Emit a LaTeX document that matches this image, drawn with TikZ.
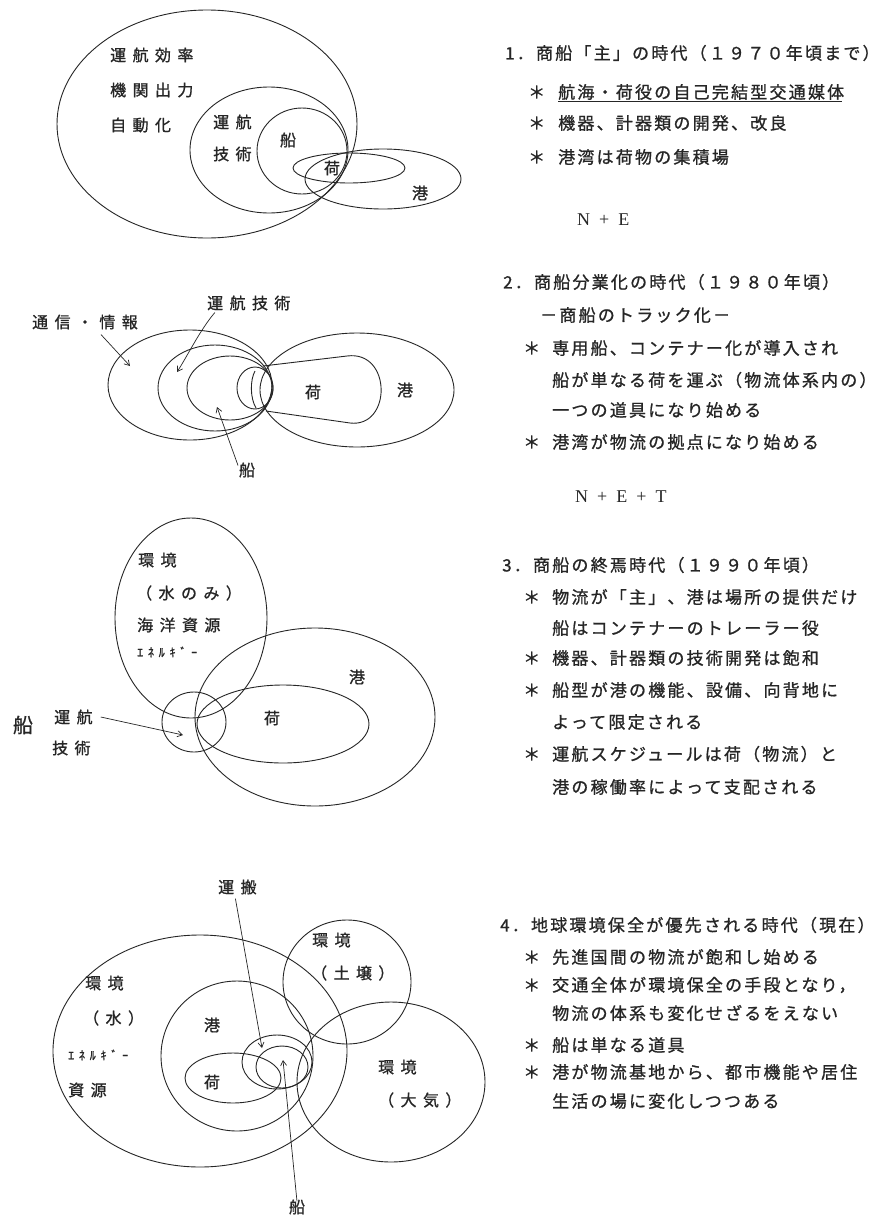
\documentclass[tikz,border=0pt]{standalone}
\usepackage{fontspec}
\usetikzlibrary{arrows.meta}
\setmainfont{Liberation Serif}
\newfontfamily\jp[LetterSpace=13, FakeBold=1]{Noto Sans CJK JP}
\newfontfamily\jpw[LetterSpace=40, FakeBold=1]{Noto Sans CJK JP}
\begin{document}
\begin{tikzpicture}[x=1pt,y=-1pt,
  ln/.style={draw=black!85, line width=0.9pt},
  rt/.style={font=\jp\fontsize{17}{17}\selectfont, anchor=west, inner sep=0pt, text=black!85},
  lb/.style={font=\jpw\fontsize{16}{16}\selectfont, inner sep=0pt, text=black!85},
  lbw/.style={lb, anchor=west},
  sm/.style={font=\jpw\fontsize{12}{12}\selectfont, inner sep=0pt, anchor=west, text=black!85},
  nf/.style={font=\fontsize{18}{18}\selectfont, anchor=west, inner sep=0pt, text=black!85},
  arr/.style={draw=black!85, line width=0.7pt, -{Straight Barb[length=5pt,width=6pt]}}]
\path[use as bounding box, fill=white] (0,0) rectangle (880,1216);

% ---------------- Diagram 1 ----------------
\draw[ln] (207,124) ellipse [x radius=150, y radius=114];
\draw[ln] (269,150) ellipse [x radius=79, y radius=63];
\draw[ln] (302,151) ellipse [x radius=45, y radius=43];
\draw[ln] (349,168) ellipse [x radius=56, y radius=15];
\draw[ln] (383,179) ellipse [x radius=78, y radius=30];
\node[lbw] (d1a) at (110,55) {運航効率};
\node[lbw] (d1b) at (110,90) {機関出力};
\node[lbw] (d1c) at (110,125) {自動化};
\node[lbw] (d1d) at (213,122) {運航};
\node[lbw] (d1e) at (213,154) {技術};
\node[lb] (d1f) at (288,140) {船};
\node[lb] (d1g) at (332,168) {荷};
\node[lb] (d1h) at (420,193) {港};

% ---------------- Diagram 2 ----------------
\draw[ln] (190,385) ellipse [x radius=82, y radius=55];
\draw[ln] (215,388) ellipse [x radius=57, y radius=43];
\draw[ln] (230,388) ellipse [x radius=43, y radius=32];
\draw[ln] (255,388) ellipse [x radius=18, y radius=21];
\draw[ln] (357,390) ellipse [x radius=97, y radius=57];
\draw[ln] (263,366) -- (347,356) .. controls (392,350) and (392,428) .. (350,423) -- (266,411);
\draw[ln] (255,371) .. controls (250,380) and (250,398) .. (256,408);
\node[lbw] (d2a) at (32,322) {通信・情報};
\node[lbw] (d2b) at (207,303) {運航技術};
\node[lb] (d2c) at (313,392) {荷};
\node[lb] (d2d) at (405,390) {港};
\node[lb] (d2e) at (247,470) {船};
\coordinate (d2ta) at (130,366);
\coordinate (d2tb) at (177,372);
\coordinate (d2tc) at (217,407);
\draw[arr] ([xshift=16pt,yshift=-5pt]d2a.south) -- (d2ta);
\draw[arr] ([xshift=-34pt,yshift=-2pt]d2b.south) .. controls (200,330) and (188,355) .. (d2tb);
\draw[arr] ([xshift=-9pt,yshift=-3pt]d2e.north) -- (d2tc);

% ---------------- Diagram 3 ----------------
\draw[ln] (191,618) ellipse [x radius=76, y radius=100];
\draw[ln] (315,717) ellipse [x radius=120, y radius=89];
\draw[ln] (283,724) ellipse [x radius=86, y radius=39];
\draw[ln] (194,722) ellipse [x radius=32, y radius=30];
\node[lbw] (d3a) at (138,560) {環境};
\node[lbw] (d3b) at (136,593) {（水のみ）};
\node[lbw] (d3c) at (137,625) {海洋資源};
\node[sm] (d3d) at (137,652) {ｴﾈﾙｷﾞｰ};
\node[lb] (d3e) at (357,677) {港};
\node[lb] (d3f) at (272,718) {荷};
\node[font=\jp\fontsize{20}{20}\selectfont, inner sep=0pt, text=black!85] (d3g) at (23,725) {船};
\node[lbw] (d3h) at (54,717) {運航};
\node[lbw] (d3i) at (52,748) {技術};
\coordinate (d3t) at (183,735);
\draw[arr] ([xshift=8pt]d3h.east) -- (d3t);

% ---------------- Diagram 4 ----------------
\draw[ln] (200,1051) ellipse [x radius=147, y radius=116];
\draw[ln] (237,1056) ellipse [x radius=76, y radius=75];
\draw[ln] (233,1078) ellipse [x radius=48, y radius=25];
\draw[ln] (277,1062) ellipse [x radius=35, y radius=27];
\draw[ln] (282,1067) ellipse [x radius=26, y radius=21];
\draw[ln] (347,982) ellipse [x radius=64, y radius=62];
\draw[ln] (391,1082) ellipse [x radius=94, y radius=80];
\node[lbw] (d4a) at (218,887) {運搬};
\node[lbw] (d4b) at (312,940) {環境};
\node[lbw] (d4c) at (311,973) {（土壌）};
\node[lbw] (d4d) at (85,983) {環境};
\node[lbw] (d4e) at (83,1018) {（水）};
\node[sm] (d4f) at (68,1055) {ｴﾈﾙｷﾞｰ};
\node[lbw] (d4g) at (68,1090) {資源};
\node[lb] (d4h) at (212,1025) {港};
\node[lb] (d4i) at (212,1082) {荷};
\node[lbw] (d4j) at (378,1067) {環境};
\node[lbw] (d4k) at (378,1100) {（大気）};
\node[lb] (d4l) at (297,1207) {船};
\coordinate (d4ta) at (262,1048);
\coordinate (d4tb) at (283,1060);
\draw[arr] ([xshift=-2pt,yshift=-4pt]d4a.south) -- (d4ta);
\draw[arr] ([yshift=-2pt]d4l.north) -- (d4tb);

% ---------------- Right column ----------------
\node[rt] (s1) at (505,53) {1．商船「主」の時代（１９７０年頃まで）};
\node[rt] (s1a) at (528,92) {＊};
\node[rt] (s1b) at (558,92) {航海・荷役の自己完結型交通媒体};
\draw[draw=black!85, line width=0.9pt] ([yshift=-1pt]s1b.south west) -- ([yshift=-1pt,xshift=-2pt]s1b.south east);
\node[rt] (s1c) at (528,123) {＊};
\node[rt] (s1d) at (558,123) {機器、計器類の開発、改良};
\node[rt] (s1e) at (528,157) {＊};
\node[rt] (s1f) at (558,157) {港湾は荷物の集積場};
\node[nf] (s1g) at (577,220) {N\enspace+\enspace E};

\node[rt] (s2) at (503,282) {2．商船分業化の時代（１９８０年頃）};
\node[rt] (s2a) at (540,315) {－商船のトラック化－};
\node[rt] (s2b) at (523,348) {＊};
\node[rt] (s2c) at (552,348) {専用船、コンテナー化が導入され};
\node[rt] (s2d) at (552,380) {船が単なる荷を運ぶ（物流体系内の）};
\node[rt] (s2e) at (552,410) {一つの道具になり始める};
\node[rt] (s2f) at (523,442) {＊};
\node[rt] (s2g) at (552,442) {港湾が物流の拠点になり始める};
\node[nf] (s2h) at (575,497) {N\enspace+\enspace E\enspace+\enspace T};

\node[rt] (s3) at (502,565) {3．商船の終焉時代（１９９０年頃）};
\node[rt] (s3a) at (523,597) {＊};
\node[rt] (s3b) at (552,597) {物流が「主」、港は場所の提供だけ};
\node[rt] (s3c) at (552,628) {船はコンテナーのトレーラー役};
\node[rt] (s3d) at (523,658) {＊};
\node[rt] (s3e) at (552,658) {機器、計器類の技術開発は飽和};
\node[rt] (s3f) at (523,690) {＊};
\node[rt] (s3g) at (552,690) {船型が港の機能、設備、向背地に};
\node[rt] (s3h) at (552,722) {よって限定される};
\node[rt] (s3i) at (523,754) {＊};
\node[rt] (s3j) at (552,754) {運航スケジュールは荷（物流）と};
\node[rt] (s3k) at (552,787) {港の稼働率によって支配される};

\node[rt] (s4) at (500,925) {4．地球環境保全が優先される時代（現在）};
\node[rt] (s4a) at (523,957) {＊};
\node[rt] (s4b) at (552,957) {先進国間の物流が飽和し始める};
\node[rt] (s4c) at (523,985) {＊};
\node[rt] (s4d) at (552,985) {交通全体が環境保全の手段となり，};
\node[rt] (s4e) at (552,1013) {物流の体系も変化せざるをえない};
\node[rt] (s4f) at (523,1045) {＊};
\node[rt] (s4g) at (552,1045) {船は単なる道具};
\node[rt] (s4h) at (523,1072) {＊};
\node[rt] (s4i) at (552,1072) {港が物流基地から、都市機能や居住};
\node[rt] (s4j) at (552,1101) {生活の場に変化しつつある};
\end{tikzpicture}
\end{document}
